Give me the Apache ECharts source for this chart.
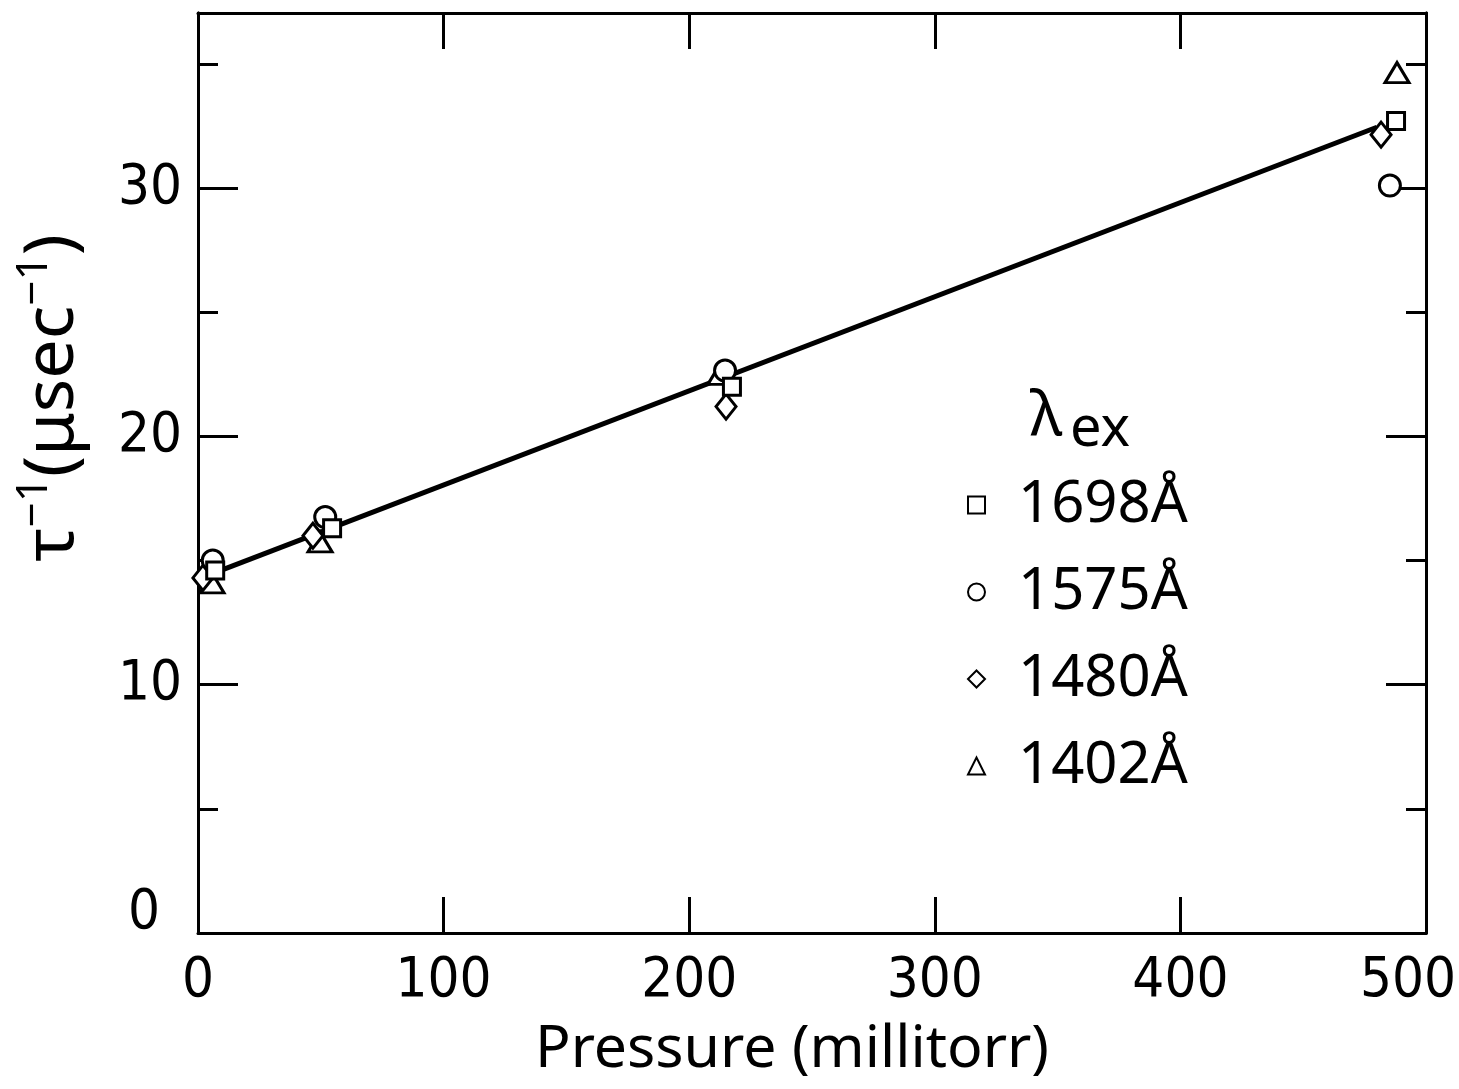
<!DOCTYPE html>
<html>
<head>
<meta charset="utf-8">
<title>Decay rate vs pressure</title>
<script src="https://cdn.jsdelivr.net/npm/echarts@6/dist/echarts.min.js"></script>
<style>
  html, body { margin: 0; padding: 0; background: #fff; }
  #chart { width: 1459px; height: 1089px; }
</style>
</head>
<body>
<div id="chart"></div>
<script>
// values: [pressure (millitorr), 1/tau (usec^-1)]
const sq1698 = [[7, 14.6], [54.6, 16.3], [217.4, 22.0], [487.8, 32.7]]
const ci1575 = [[6, 15.0], [51.8, 16.75], [214.6, 22.65], [485.3, 30.1]]
const di1480 = [[2, 14.3], [46.8, 16.0], [215, 21.2], [481.7, 32.15]]
const tr1402 = [[5.7, 14.1], [49.7, 15.75], [212.5, 22.5], [488.2, 34.65]]
// straight fit through the points
const fitLine = [[4, 14.4], [480, 32.45]]

const xTicks = [0, 100, 200, 300, 400, 500]
const yLabels = [0, 10, 20, 30]

const numFont = '"Liberation Sans Narrow", "DejaVu Sans Condensed", "Roboto", sans-serif'
const textFont = '"Noto Sans", "DejaVu Sans", sans-serif'

const chart = echarts.init(document.getElementById('chart'))

const hollow = { color: '#fff', borderColor: '#000', borderWidth: 3, opacity: 1 }

function frameX(pos, showLabel) {
  return {
    type: 'value', position: pos, min: 0, max: 500, interval: 100,
    axisLine: { show: true, onZero: false, lineStyle: { color: '#000', width: 3 } },
    axisTick: { show: true, inside: true, length: 36, lineStyle: { color: '#000', width: 3 } },
    splitLine: { show: false },
    axisLabel: {
      show: showLabel, margin: 20, color: '#000', fontFamily: numFont, fontSize: 56,
      formatter: v => v === 500 ? '{r|500}' : (xTicks.includes(v) ? String(v) : ''),
      rich: { r: { fontFamily: numFont, fontSize: 56, color: '#000', padding: [0, 36, 0, 0] } }
    }
  }
}

function frameY(pos, interval, len, showLabel) {
  return {
    type: 'value', position: pos, min: 0, max: 37.05, interval: interval,
    axisLine: { show: true, onZero: false, lineStyle: { color: '#000', width: 3 } },
    axisTick: { show: true, inside: true, length: len, lineStyle: { color: '#000', width: 3 } },
    splitLine: { show: false },
    axisLabel: {
      show: showLabel, margin: 16, color: '#000', fontFamily: numFont, fontSize: 56,
      formatter: v => v === 0 ? '{z|0}' : (yLabels.includes(v) ? String(v) : ''),
      rich: { z: { fontFamily: numFont, fontSize: 56, color: '#000', padding: [0, 22, 40, 0] } }
    }
  }
}

const yLeft = frameY('left', 10, 40, true)
yLeft.name = '{t|τ}{s|−1}{t|(μsec}{s|−1}{t|)}'
yLeft.nameLocation = 'middle'
yLeft.nameRotate = 90
yLeft.nameGap = 104
yLeft.nameTextStyle = {
  padding: [0, 0, 0, 150],
  rich: {
    t: { fontFamily: textFont, fontSize: 70, color: '#000' },
    s: { fontFamily: textFont, fontSize: 44, color: '#000', padding: [0, 0, 38, 0] }
  }
}

const xBottom = frameX('bottom', true)
xBottom.name = 'Pressure (millitorr)'
xBottom.nameLocation = 'middle'
xBottom.nameGap = 88
xBottom.nameTextStyle = { fontFamily: textFont, fontSize: 59, color: '#000', padding: [0, 40, 0, 0] }

chart.setOption({
  backgroundColor: '#fff',
  animation: false,
  grid: { left: 198, right: 33, top: 13, bottom: 156, outerBoundsMode: 'none', containLabel: false },
  xAxis: [xBottom, frameX('top', false)],
  yAxis: [
    yLeft,
    frameY('right', 10, 40, false),
    frameY('left', 5, 20, false),
    frameY('right', 5, 20, false)
  ],
  legend: {
    orient: 'vertical', left: 962, top: 470,
    itemWidth: 17, itemHeight: 17, itemGap: 27,
    textStyle: { fontFamily: textFont, fontSize: 58, color: '#000', lineHeight: 60, padding: [0, 0, 0, 28] },
    data: ['1698Å', '1575Å', '1480Å', '1402Å']
  },
  graphic: [
    { type: 'text', left: 1030, top: 386, style: { text: 'λ', font: '62px "Noto Sans", sans-serif', fill: '#000' } },
    { type: 'text', left: 1070, top: 402, style: { text: 'ex', font: '56px "Noto Sans", sans-serif', fill: '#000' } }
  ],
  series: [
    {
      name: 'fit', type: 'line', data: fitLine, showSymbol: false, z: 1,
      lineStyle: { color: '#000', width: 5 }
    },
    { name: '1402Å', type: 'scatter', data: tr1402, symbol: 'triangle', symbolSize: [24, 20], itemStyle: hollow, z: 3 },
    { name: '1480Å', type: 'scatter', data: di1480, symbol: 'diamond', symbolSize: [20, 25], itemStyle: hollow, z: 3 },
    { name: '1575Å', type: 'scatter', data: ci1575, symbol: 'circle', symbolSize: 21, itemStyle: hollow, z: 3 },
    { name: '1698Å', type: 'scatter', data: sq1698, symbol: 'rect', symbolSize: 17, itemStyle: hollow, z: 4 }
  ]
})
</script>
</body>
</html>
